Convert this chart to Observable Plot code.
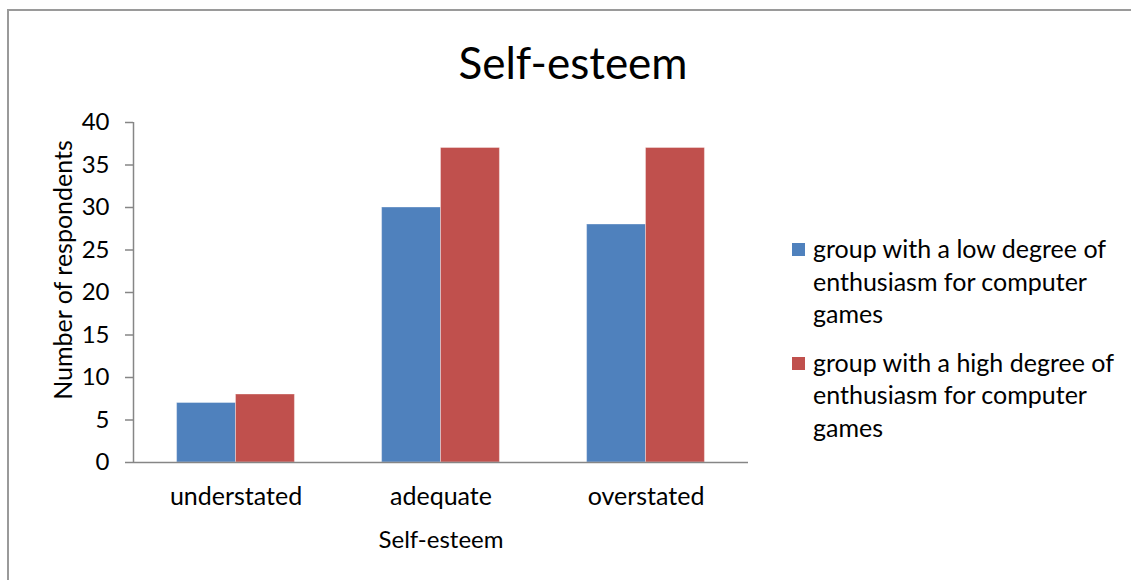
<!DOCTYPE html>
<html>
<head>
<meta charset="utf-8">
<script src="https://cdn.jsdelivr.net/npm/d3@7"></script>
<script src="https://cdn.jsdelivr.net/npm/@observablehq/plot@0.6"></script>
<style>
  html, body { margin: 0; padding: 0; background: #fff; }
  body { width: 1131px; height: 580px; position: relative; overflow: hidden; font-family: Lato, "Open Sans", sans-serif; color: #000; }
  #frame { position: absolute; left: 7px; top: 9px; width: 1124px; height: 571px; border-left: 2px solid #9a9a9a; border-top: 2px solid #9a9a9a; box-sizing: border-box; }
  #chart { position: absolute; left: 0; top: 0; }
  .t { position: absolute; white-space: nowrap; }
  #title { left: 573px; top: 62px; transform: translate(-50%, -50%); font-size: 44px; }
  #xtitle { left: 441px; top: 538px; transform: translate(-50%, -50%); font-size: 24px; }
  #ytitle { left: 62px; top: 270px; transform: translate(-50%, -50%) rotate(-90deg); font-size: 25px; }
  #legend { position: absolute; left: 792px; top: 232px; font-size: 25px; line-height: 32.5px; }
  .item { position: relative; padding-left: 21px; margin-bottom: 16px; }
  .sw { position: absolute; left: 0; top: 11px; width: 13px; height: 13px; }
</style>
</head>
<body>
<div id="frame"></div>
<div id="chart"></div>
<div class="t" id="title"></div>
<div class="t" id="xtitle"></div>
<div class="t" id="ytitle"></div>
<div id="legend"></div>
<script>
const chartTitle = "Self-esteem";
const xAxisTitle = "Self-esteem";
const yAxisTitle = "Number of respondents";
const categories = ["understated", "adequate", "overstated"];
const seriesNames = [
  "group with a low degree of enthusiasm for computer games",
  "group with a high degree of enthusiasm for computer games"
];
const seriesLines = [
  ["group with a low degree of", "enthusiasm for computer", "games"],
  ["group with a high degree of", "enthusiasm for computer", "games"]
];
const lowValues = [7, 30, 28];
const highValues = [8, 37, 37];
const yTicks = [0, 5, 10, 15, 20, 25, 30, 35, 40];
const colors = ["#4F81BD", "#C0504D"];

const lowData = categories.map((c, i) => ({category: c, value: lowValues[i]}));
const highData = categories.map((c, i) => ({category: c, value: highValues[i]}));

const W = 1131, H = 580;
const mL = 133, mR = 383, mT = 122, mB = 118;
const band = (W - mL - mR) / categories.length;
const barW = band / (2 + 2 * 0.74);
const inset = (band - barW) / 2;
const axisColor = "#868686";

const chart = Plot.plot({
  width: W,
  height: H,
  marginLeft: mL,
  marginRight: mR,
  marginTop: mT,
  marginBottom: mB,
  style: {fontFamily: "Lato, 'Open Sans', sans-serif", fontSize: "24px", color: "#000", background: "transparent"},
  x: {domain: categories, padding: 0, label: null},
  y: {domain: [0, 40], label: null},
  marks: [
    Plot.barY(lowData, {x: "category", y: "value", fill: colors[0], insetLeft: inset, insetRight: inset, dx: -barW / 2, stroke: "#ffffff", strokeOpacity: 0.35}),
    Plot.barY(highData, {x: "category", y: "value", fill: colors[1], insetLeft: inset, insetRight: inset, dx: barW / 2, stroke: "#ffffff", strokeOpacity: 0.35}),
    Plot.ruleY([0], {stroke: axisColor, strokeWidth: 1.5}),
    Plot.ruleX([categories[0]], {dx: -band / 2, y1: 0, y2: 40, stroke: axisColor, strokeWidth: 1.5}),
    Plot.axisY({ticks: yTicks, tickSize: 8, tickPadding: 16, stroke: axisColor, strokeWidth: 1.5, fill: "#000", label: null, fontSize: 24}),
    Plot.axisX({tickSize: 0, tickPadding: 25, fill: "#000", label: null, fontSize: 25})
  ]
});
document.getElementById("chart").appendChild(chart);

document.getElementById("title").textContent = chartTitle;
document.getElementById("xtitle").textContent = xAxisTitle;
document.getElementById("ytitle").textContent = yAxisTitle;

const legend = document.getElementById("legend");
seriesNames.forEach((name, i) => {
  const item = document.createElement("div");
  item.className = "item";
  item.title = name;
  const sw = document.createElement("span");
  sw.className = "sw";
  sw.style.background = colors[i];
  item.appendChild(sw);
  seriesLines[i].forEach(line => {
    const l = document.createElement("div");
    l.textContent = line;
    item.appendChild(l);
  });
  legend.appendChild(item);
});
</script>
</body>
</html>
